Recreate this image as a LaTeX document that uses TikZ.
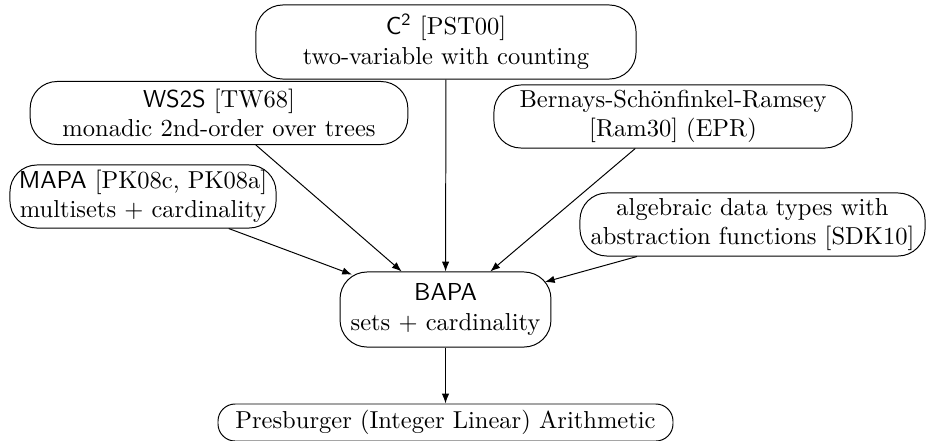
\documentclass[tikz,border=0pt]{standalone}
\usetikzlibrary{arrows.meta}
\begin{document}
\begin{tikzpicture}[x=0.4077pt,y=-0.4077pt,
  box/.style={draw, rounded corners=11pt, align=center, inner xsep=1pt, inner ysep=2pt},
  edge/.style={-{Latex[length=4pt,width=3pt]}}]
\useasboundingbox (0,0) rectangle (926,440);
\node[box, minimum width=155pt, minimum height=30.2pt] (c2) at (446,42)
  {$\mathsf{C}^{\mathsf{2}}$ [PST00]\\two-variable with counting};
\node[box, minimum width=154pt, minimum height=25.7pt] (ws2s) at (219,113)
  {\textsf{WS2S} [TW68]\\monadic 2nd-order over trees};
\node[box, minimum width=146pt, minimum height=25.7pt] (bsr) at (673,116.5)
  {Bernays-Schönfinkel-Ramsey\\{}[Ram30] (EPR)};
\node[box, minimum width=108.5pt, minimum height=25.7pt] (mapa) at (143,196.5)
  {\textsf{MAPA} [PK08c, PK08a]\\multisets + cardinality};
\node[box, minimum width=140.7pt, minimum height=25.7pt] (adt) at (752.5,224.5)
  {algebraic data types with\\abstraction functions [SDK10]};
\node[box, minimum width=86pt, minimum height=30.6pt] (bapa) at (445.5,309.5)
  {\textsf{BAPA}\\sets + cardinality};
\node[box, rounded corners=7pt, minimum width=185.5pt, minimum height=15.1pt] (pres) at (445.5,422.5)
  {Presburger (Integer Linear) Arithmetic};
\draw[edge] (c2) -- (bapa);
\draw[edge] (ws2s) -- (bapa);
\draw[edge] (bsr) -- (bapa);
\draw[edge, shorten >=-3.6pt] (mapa) -- (bapa);
\draw[edge, shorten >=-2.8pt] (adt) -- (bapa);
\draw[edge] (bapa) -- (pres);
\end{tikzpicture}
\end{document}
